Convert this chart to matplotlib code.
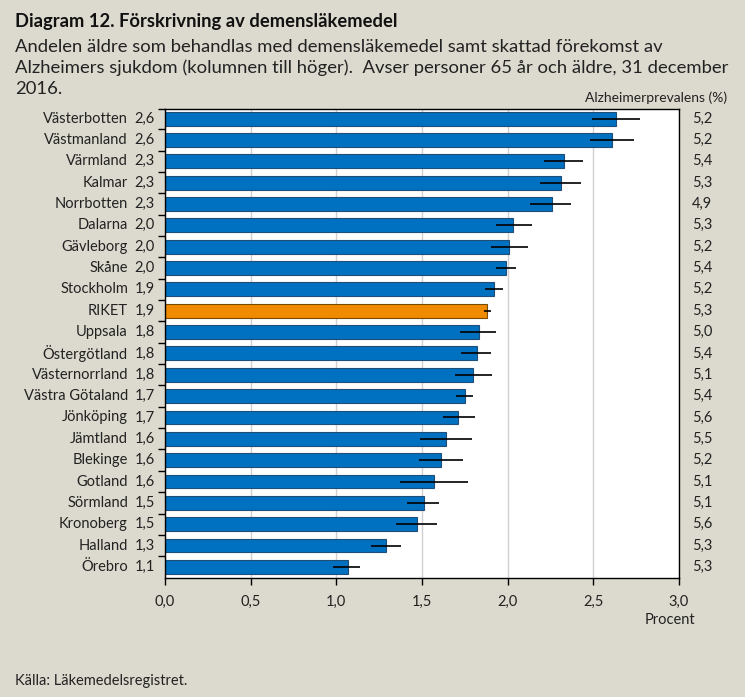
import matplotlib
matplotlib.use("Agg")
import matplotlib.pyplot as plt
from matplotlib.transforms import blended_transform_factory

regions = ["Västerbotten", "Västmanland", "Värmland", "Kalmar", "Norrbotten", "Dalarna",
           "Gävleborg", "Skåne", "Stockholm", "RIKET", "Uppsala", "Östergötland",
           "Västernorrland", "Västra Götaland", "Jönköping", "Jämtland", "Blekinge",
           "Gotland", "Sörmland", "Kronoberg", "Halland", "Örebro"]
values = [2.63, 2.61, 2.33, 2.31, 2.26, 2.03, 2.01, 1.99, 1.92, 1.88, 1.83, 1.82,
          1.80, 1.75, 1.71, 1.64, 1.61, 1.57, 1.51, 1.47, 1.29, 1.07]
value_labels = ["2,6", "2,6", "2,3", "2,3", "2,3", "2,0", "2,0", "2,0", "1,9", "1,9", "1,8",
                "1,8", "1,8", "1,7", "1,7", "1,6", "1,6", "1,6", "1,5", "1,5", "1,3", "1,1"]
ci_low = [2.49, 2.48, 2.21, 2.19, 2.13, 1.93, 1.90, 1.93, 1.87, 1.86, 1.72, 1.73,
          1.69, 1.70, 1.62, 1.49, 1.48, 1.37, 1.41, 1.35, 1.20, 0.98]
ci_high = [2.77, 2.74, 2.44, 2.43, 2.37, 2.14, 2.12, 2.05, 1.97, 1.90, 1.93, 1.90,
           1.91, 1.80, 1.81, 1.79, 1.74, 1.77, 1.60, 1.59, 1.38, 1.14]
prevalence = ["5,2", "5,2", "5,4", "5,3", "4,9", "5,3", "5,2", "5,4", "5,2", "5,3", "5,0",
              "5,4", "5,1", "5,4", "5,6", "5,5", "5,2", "5,1", "5,1", "5,6", "5,3", "5,3"]
xticks = [0.0, 0.5, 1.0, 1.5, 2.0, 2.5, 3.0]
xtick_labels = ["0,0", "0,5", "1,0", "1,5", "2,0", "2,5", "3,0"]

bg = "#DCD9CE"
txt = "#222222"
plt.rcParams["font.family"] = ["Lato", "DejaVu Sans"]
fig = plt.figure(figsize=(7.45, 6.97), dpi=100, facecolor=bg)
ax = fig.add_axes([165/745, 1-578/697, (679-165)/745, (578-109)/697])
ax.set_facecolor("white")

y = list(range(len(regions)))
colors = ["#F08A00" if r == "RIKET" else "#0070C0" for r in regions]
edges = ["#7A4A00" if r == "RIKET" else "#1F4E79" for r in regions]
ax.barh(y, values, height=0.65, color=colors, edgecolor=edges, linewidth=0.8, zorder=2)
xerr = [[v - lo for v, lo in zip(values, ci_low)], [hi - v for v, hi in zip(values, ci_high)]]
ax.errorbar(values, y, xerr=xerr, fmt="none", ecolor="black", elinewidth=1.2, capsize=0, zorder=3)

ax.set_xlim(0, 3.0)
ax.set_ylim(21.52, -0.45)
ax.set_xticks(xticks)
ax.set_xticklabels(xtick_labels, fontsize=10.5, color=txt)
ax.tick_params(axis="x", direction="out", length=5, width=1, pad=7)
ax.set_yticks([i + 0.5 for i in y[:-1]] + [-0.45])
ax.set_yticklabels([])
ax.tick_params(axis="y", direction="out", length=5, width=1)
ax.grid(axis="x", color="#D0D0D0", linewidth=1, zorder=0)
for s in ax.spines.values():
    s.set_color("black")
    s.set_linewidth(1)

tr = blended_transform_factory(ax.transAxes, ax.transData)
for i in y:
    ax.text(-0.072, i, regions[i], transform=tr, ha="right", va="center", fontsize=10.5, color=txt)
    ax.text(-0.0195, i, value_labels[i], transform=tr, ha="right", va="center", fontsize=10.5, color=txt)
    ax.text(1.045, i, prevalence[i], transform=tr, ha="center", va="center", fontsize=10.5, color=txt)

fig.text(727/745, 1-98/697, "Alzheimerprevalens (%)", ha="right", va="center", fontsize=10, color=txt)
fig.text(695/745, 1-620/697, "Procent", ha="right", va="center", fontsize=10.5, color=txt)
fig.text(15/745, 1-21/697, "Diagram 12. Förskrivning av demensläkemedel", ha="left", va="center",
         fontsize=13.2, fontweight="bold", color="#111111")
fig.text(15/745, 1-47/697, "Andelen äldre som behandlas med demensläkemedel samt skattad förekomst av",
         ha="left", va="center", fontsize=13.3, color=txt)
fig.text(15/745, 1-68/697, "Alzheimers sjukdom (kolumnen till höger).  Avser personer 65 år och äldre, 31 december",
         ha="left", va="center", fontsize=13.3, color=txt)
fig.text(15/745, 1-89/697, "2016.", ha="left", va="center", fontsize=13.3, color=txt)
fig.text(15/745, 1-681/697, "Källa: Läkemedelsregistret.", ha="left", va="center", fontsize=10.5, color=txt)

fig.savefig("out.png", dpi=100, facecolor=bg)
